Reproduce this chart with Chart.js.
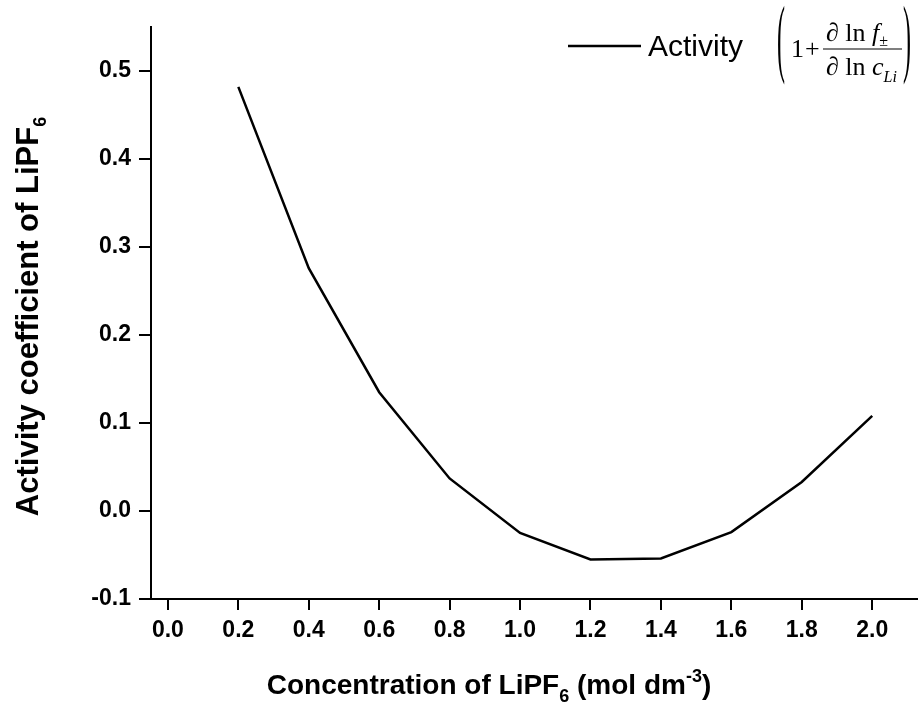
<!DOCTYPE html>
<html>
<head>
<meta charset="utf-8">
<script src="https://cdn.jsdelivr.net/npm/chart.js@4.4.1/dist/chart.umd.min.js"></script>
<style>
  html, body { margin: 0; padding: 0; background: #fff; }
  #wrap { width: 918px; height: 713px; }
</style>
</head>
<body>
<div id="wrap"><canvas id="myChart" width="918" height="713"></canvas></div>
<script>
// values
const concentration = [0.2, 0.4, 0.6, 0.8, 1.0, 1.2, 1.4, 1.6, 1.8, 2.0];
const activity = [0.482, 0.276, 0.135, 0.037, -0.025, -0.055, -0.054, -0.024, 0.033, 0.108];
const xTicks = [0.0, 0.2, 0.4, 0.6, 0.8, 1.0, 1.2, 1.4, 1.6, 1.8, 2.0];
const yTicks = [-0.1, 0.0, 0.1, 0.2, 0.3, 0.4, 0.5];

const sans = '"Liberation Sans", Arial, sans-serif';
const serif = '"Liberation Serif", "Times New Roman", serif';

// draws a run of [text, font, yOffset] pieces starting at x
const drawPieces = (ctx, pieces, x, y) => {
    for (const [txt, font, dy] of pieces) {
        ctx.font = font;
        ctx.fillText(txt, x, y + dy);
        x += ctx.measureText(txt).width;
    }
    return x;
};
const piecesWidth = (ctx, pieces) => {
    let w = 0;
    for (const [txt, font] of pieces) {
        ctx.font = font;
        w += ctx.measureText(txt).width;
    }
    return w;
};

const titles = {
    id: 'titles',
    afterDraw(chart) {
        const ctx = chart.ctx;
        ctx.save();
        ctx.fillStyle = '#000';
        ctx.textBaseline = 'alphabetic';
        ctx.textAlign = 'left';

        const small = 'bold 18px ' + sans;
        const xPieces = [
            ['Concentration of LiPF', 'bold 28px ' + sans, 0],
            ['6', small, 8],
            [' (mol dm', 'bold 28px ' + sans, 0],
            ['-3', small, -12],
            [')', 'bold 28px ' + sans, 0]
        ];
        let w = piecesWidth(ctx, xPieces);
        drawPieces(ctx, xPieces, 489 - w / 2, 694);

        const yPieces = [
            ['Activity coefficient of LiPF', 'bold 31px ' + sans, 0],
            ['6', small, 8]
        ];
        w = piecesWidth(ctx, yPieces);
        ctx.save();
        ctx.translate(37.5, 316.5);
        ctx.rotate(-Math.PI / 2);
        drawPieces(ctx, yPieces, -w / 2, 0);
        ctx.restore();

        // legend
        ctx.strokeStyle = '#000';
        ctx.lineWidth = 2.5;
        ctx.beginPath();
        ctx.moveTo(568, 46);
        ctx.lineTo(641, 46);
        ctx.stroke();
        ctx.font = '30px ' + sans;
        ctx.fillText('Activity', 648, 56);

        // (1 + d ln f / d ln c_Li)
        ctx.font = '24px ' + serif;
        ctx.save();
        ctx.translate(777, 66);
        ctx.scale(1, 3.6);
        ctx.fillText('(', 0, 0);
        ctx.restore();
        ctx.save();
        ctx.translate(903, 66);
        ctx.scale(1, 3.6);
        ctx.fillText(')', 0, 0);
        ctx.restore();

        const f26 = '26px ' + serif;
        const i26 = 'italic 26px ' + serif;
        drawPieces(ctx, [['1', f26, 0]], 791, 57);
        drawPieces(ctx, [['+', f26, 0]], 805, 57);
        drawPieces(ctx, [['\u2202 ln ', f26, 0], ['f', i26, 0], ['\u00b1', '16px ' + serif, 5]], 826, 41);
        drawPieces(ctx, [['\u2202 ln ', f26, 0], ['c', i26, 0], ['Li', 'italic 16px ' + serif, 7]], 826, 75);
        ctx.lineWidth = 1.2;
        ctx.beginPath();
        ctx.moveTo(823, 49);
        ctx.lineTo(902, 49);
        ctx.stroke();
        ctx.restore();
    }
};

const tickFont = { family: sans, size: 23, weight: 'bold' };

new Chart(document.getElementById('myChart'), {
    type: 'line',
    plugins: [titles],
    data: {
        datasets: [{
            label: 'Activity',
            data: concentration.map((c, i) => ({ x: c, y: activity[i] })),
            borderColor: '#000',
            borderWidth: 2.5,
            pointRadius: 0,
            tension: 0,
            fill: false
        }]
    },
    options: {
        responsive: false,
        animation: false,
        events: [],
        layout: { padding: { top: 27, right: 0, left: 0, bottom: 0 } },
        plugins: { legend: { display: false }, tooltip: { enabled: false } },
        scales: {
            x: {
                type: 'linear',
                min: -0.048,
                max: 2.13,
                afterBuildTicks: (scale) => { scale.ticks = xTicks.map(v => ({ value: v })); },
                afterFit: (scale) => { scale.height = 114; },
                grid: { drawOnChartArea: false, drawTicks: true, tickLength: 11, color: '#000', lineWidth: 2 },
                border: { display: true, color: '#000', width: 2 },
                ticks: {
                    color: '#000',
                    font: tickFont,
                    padding: 7,
                    maxRotation: 0,
                    autoSkip: false,
                    callback: (v) => v.toFixed(1)
                }
            },
            y: {
                type: 'linear',
                min: -0.1,
                max: 0.55,
                afterBuildTicks: (scale) => { scale.ticks = yTicks.map(v => ({ value: v })); },
                afterFit: (scale) => { scale.width = 151; },
                grid: { drawOnChartArea: false, drawTicks: true, tickLength: 12, color: '#000', lineWidth: 2 },
                border: { display: true, color: '#000', width: 2 },
                ticks: {
                    color: '#000',
                    font: tickFont,
                    padding: 8,
                    autoSkip: false,
                    callback: (v) => v.toFixed(1)
                }
            }
        }
    }
});
</script>
</body>
</html>
